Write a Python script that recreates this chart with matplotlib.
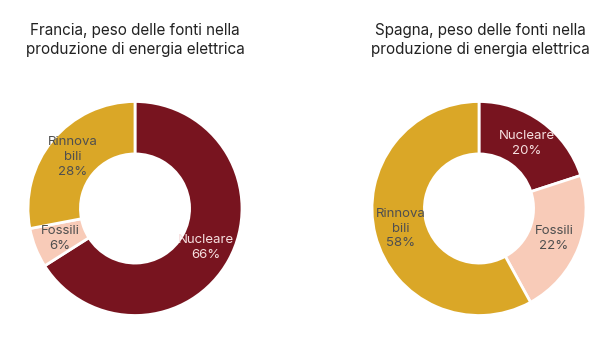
import numpy as np
import matplotlib as mpl
mpl.use("Agg")
import matplotlib.pyplot as plt

p = plt.rcParams
p['font.family'] = ['Inter', 'DejaVu Sans']

# data
sources = ["Nucleare", "Fossili", "Rinnova\nbili"]
francia = [66, 6, 28]
spagna = [20, 22, 58]
titles = ["Francia, peso delle fonti nella\nproduzione di energia elettrica",
          "Spagna, peso delle fonti nella\nproduzione di energia elettrica"]

colors = ["#78141f", "#f8cbb8", "#daa727"]
text_colors = ["#f6e0e0", "#4f4f4f", "#4f4f4f"]

fig = plt.figure(figsize=(6.10, 3.58), dpi=100)

W, H = 610, 358
R = 107  # outer radius, px
centers = [(135, 208.5), (479, 208.5)]
title_x = [135, 480]

for (cx, cy), vals, title, tx in zip(centers, [francia, spagna], titles, title_x):
    ax = fig.add_axes([(cx - R) / W, 1 - (cy + R) / H, 2 * R / W, 2 * R / H])
    ax.pie(vals, colors=colors, startangle=90, counterclock=False, radius=1,
           wedgeprops=dict(width=0.49, edgecolor='white', linewidth=2))
    ax.set_xlim(-1, 1)
    ax.set_ylim(-1, 1)
    ax.set_aspect('equal')
    ax.axis('off')

    # labels in the middle of the ring
    total = sum(vals)
    start = 0
    for name, v, tc in zip(sources, vals, text_colors):
        mid = start + v / 2
        ang = np.deg2rad(90 - mid / total * 360)
        r = 0.755
        ax.text(r * np.cos(ang), r * np.sin(ang), f"{name}\n{v}%",
                ha='center', va='center', fontsize=9.5, color=tc, linespacing=1.32)
        start += v

    fig.text(tx / W, 1 - 40 / H, title, ha='center', va='center',
             fontsize=11, color='#222222', linespacing=1.4)

plt.savefig("out.png", dpi=100)
